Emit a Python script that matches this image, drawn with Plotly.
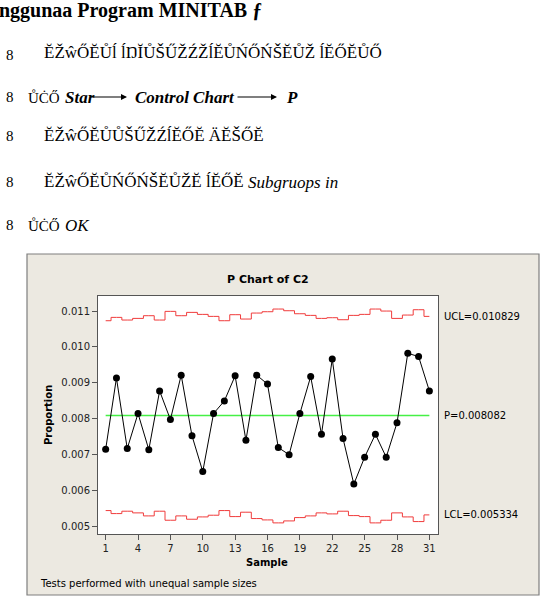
import plotly.graph_objects as go

# ---------------- data ----------------
samples = list(range(1, 32))
proportion = [0.00714, 0.00913, 0.00716, 0.00814, 0.00713, 0.00877, 0.00797, 0.00921,
              0.00752, 0.00652, 0.00814, 0.00849, 0.00919, 0.00739, 0.00921, 0.00896,
              0.00719, 0.00699, 0.00814, 0.00917, 0.00756, 0.00966, 0.00744, 0.00617,
              0.00692, 0.00756, 0.00692, 0.00788, 0.00982, 0.00973, 0.00877]
ucl = [0.010729, 0.010822, 0.010748, 0.010794, 0.010869, 0.010748, 0.010990, 0.010869,
       0.010962, 0.010906, 0.010850, 0.010729, 0.010897, 0.010776, 0.010943, 0.010980,
       0.011055, 0.011008, 0.010924, 0.010878, 0.010794, 0.010813, 0.010757, 0.010878,
       0.010906, 0.011055, 0.010999, 0.010794, 0.010887, 0.011036, 0.010850]
lcl = [0.005431, 0.005347, 0.005413, 0.005366, 0.005282, 0.005413, 0.005161, 0.005282,
       0.005189, 0.005254, 0.005301, 0.005431, 0.005263, 0.005385, 0.005208, 0.005170,
       0.005087, 0.005142, 0.005235, 0.005282, 0.005366, 0.005338, 0.005413, 0.005291,
       0.005263, 0.005087, 0.005161, 0.005366, 0.005254, 0.005124, 0.005310]
p_bar = 0.008082
ucl_label = "UCL=0.010829"
p_label = "P=0.008082"
lcl_label = "LCL=0.005334"
x_tickvals = [1, 4, 7, 10, 13, 16, 19, 22, 25, 28, 31]
x_ticktext = ["1", "4", "7", "10", "13", "16", "19", "22", "25", "28", "31"]
y_tickvals = [0.005, 0.006, 0.007, 0.008, 0.009, 0.010, 0.011]
y_ticktext = ["0.005", "0.006", "0.007", "0.008", "0.009", "0.010", "0.011"]

# ---------------- geometry ----------------
WIDTH, HEIGHT = 547, 597
L, R, T, B = 98, 438, 296, 534
PW, PH = R - L, B - T


def px(xp):
    return (xp - L) / PW


def py(yp):
    return (B - yp) / PH


FONT = "DejaVu Sans"
SERIF = "Liberation Serif"

fig = go.Figure()

fig.add_trace(go.Scatter(x=samples, y=ucl, mode="lines", line=dict(color="#F03C3C", width=1, shape="hvh"),
                         hoverinfo="skip", showlegend=False))
fig.add_trace(go.Scatter(x=samples, y=lcl, mode="lines", line=dict(color="#F03C3C", width=1, shape="hvh"),
                         hoverinfo="skip", showlegend=False))
fig.add_trace(go.Scatter(x=[samples[0], samples[-1]], y=[p_bar, p_bar], mode="lines",
                         line=dict(color="#45F045", width=1.5), hoverinfo="skip", showlegend=False))
fig.add_trace(go.Scatter(x=samples, y=proportion, mode="lines+markers",
                         line=dict(color="black", width=1),
                         marker=dict(color="black", size=7), showlegend=False))

shapes = [
    # beige outer frame
    dict(type="rect", xref="paper", yref="paper", x0=px(27), x1=px(539), y0=py(595), y1=py(254),
         fillcolor="#ECE9E1", line=dict(color="#7F7F7F", width=1.2), layer="below"),
    # white data region
    dict(type="rect", xref="paper", yref="paper", x0=0, x1=1, y0=0, y1=1,
         fillcolor="white", line=dict(width=0), layer="below"),
]

anns = []


def text(xp, yp, s, size=10, bold=False, italic=False, family=FONT, xanchor="left", yanchor="middle",
         color="black", angle=0):
    if bold:
        s = "<b>" + s + "</b>"
    if italic:
        s = "<i>" + s + "</i>"
    anns.append(dict(x=px(xp), y=py(yp), xref="paper", yref="paper", text=s, showarrow=False,
                     xanchor=xanchor, yanchor=yanchor, textangle=angle,
                     font=dict(family=family, size=size, color=color)))


# chart texts
text(268, 279, "P Chart of C2", size=11, bold=True, xanchor="center")
text(48, 415, "Proportion", size=10, bold=True, xanchor="center", angle=-90)
text(267, 562, "Sample", size=10, bold=True, xanchor="center")
text(38, 583, "Tests performed with unequal sample sizes", size=10)
text(442, 316, ucl_label, size=10)
text(442, 415, p_label, size=10)
text(442, 514, lcl_label, size=10)

# document text above the chart
text(-3, 11, "nggunaa Program MINITAB ƒ", size=20, bold=True, family=SERIF)
bullet_y = [55, 97, 136, 182, 225]
for yy in bullet_y:
    text(4, yy, "8", size=15, family=SERIF)
text(42, 52, "ĔŽŵŐĔŮĺ ĺŊĬŮŠŰŽŹŽĺĔŮŃŐŃŠĔŮŽ ĺĔŐĔŮŐ", size=17, family=SERIF)
text(26, 97, "ŮĊŐ", size=15, family=SERIF)
text(63, 97, "Star", size=17, bold=True, italic=True, family=SERIF)
text(133, 97, "Control Chart", size=17, bold=True, italic=True, family=SERIF)
text(284, 97, "P", size=17, bold=True, italic=True, family=SERIF)
text(42, 135, "ĔŽŵŐĔŮŮŠŰŽŹĺĔŐĔ ÄĔŠŐĔ", size=17, family=SERIF)
text(42, 181, "ĔŽŵŐĔŮŃŐŃŠĔŮŽĔ ĺĔŐĔ", size=17, family=SERIF)
text(246, 182, "Subgruops in", size=17, italic=True, family=SERIF)
text(26, 225, "ŮĊŐ", size=15, family=SERIF)
text(63, 225, "OK", size=17, italic=True, family=SERIF)

# arrows
for x_head, x_tail in [(127, 90), (277, 236)]:
    anns.append(dict(x=px(x_head), y=py(97), xref="paper", yref="paper", ax=x_tail - x_head, ay=0,
                     axref="pixel", ayref="pixel", text="", showarrow=True, arrowhead=2,
                     arrowsize=1, arrowwidth=1.2, arrowcolor="black"))

fig.update_layout(
    width=WIDTH, height=HEIGHT,
    margin=dict(l=L, r=WIDTH - R, t=T, b=HEIGHT - B, pad=0),
    paper_bgcolor="white", plot_bgcolor="rgba(0,0,0,0)",
    shapes=shapes, annotations=anns,
    font=dict(family=FONT, size=10, color="black"),
    showlegend=False,
)
fig.update_xaxes(range=[0.29, 31.8], tickvals=x_tickvals, ticktext=x_ticktext, ticks="outside",
                 ticklen=5, tickcolor="#555", showgrid=False, zeroline=False, showline=True,
                 linecolor="#555", linewidth=1, mirror=True, tickfont=dict(size=10, color="#222"))
fig.update_yaxes(range=[0.004777, 0.011419], tickvals=y_tickvals, ticktext=y_ticktext, ticks="outside",
                 ticklen=5, tickcolor="#555", showgrid=False, zeroline=False, showline=True,
                 linecolor="#555", linewidth=1, mirror=True, tickfont=dict(size=10, color="#222"))

fig.write_html("out.html")
